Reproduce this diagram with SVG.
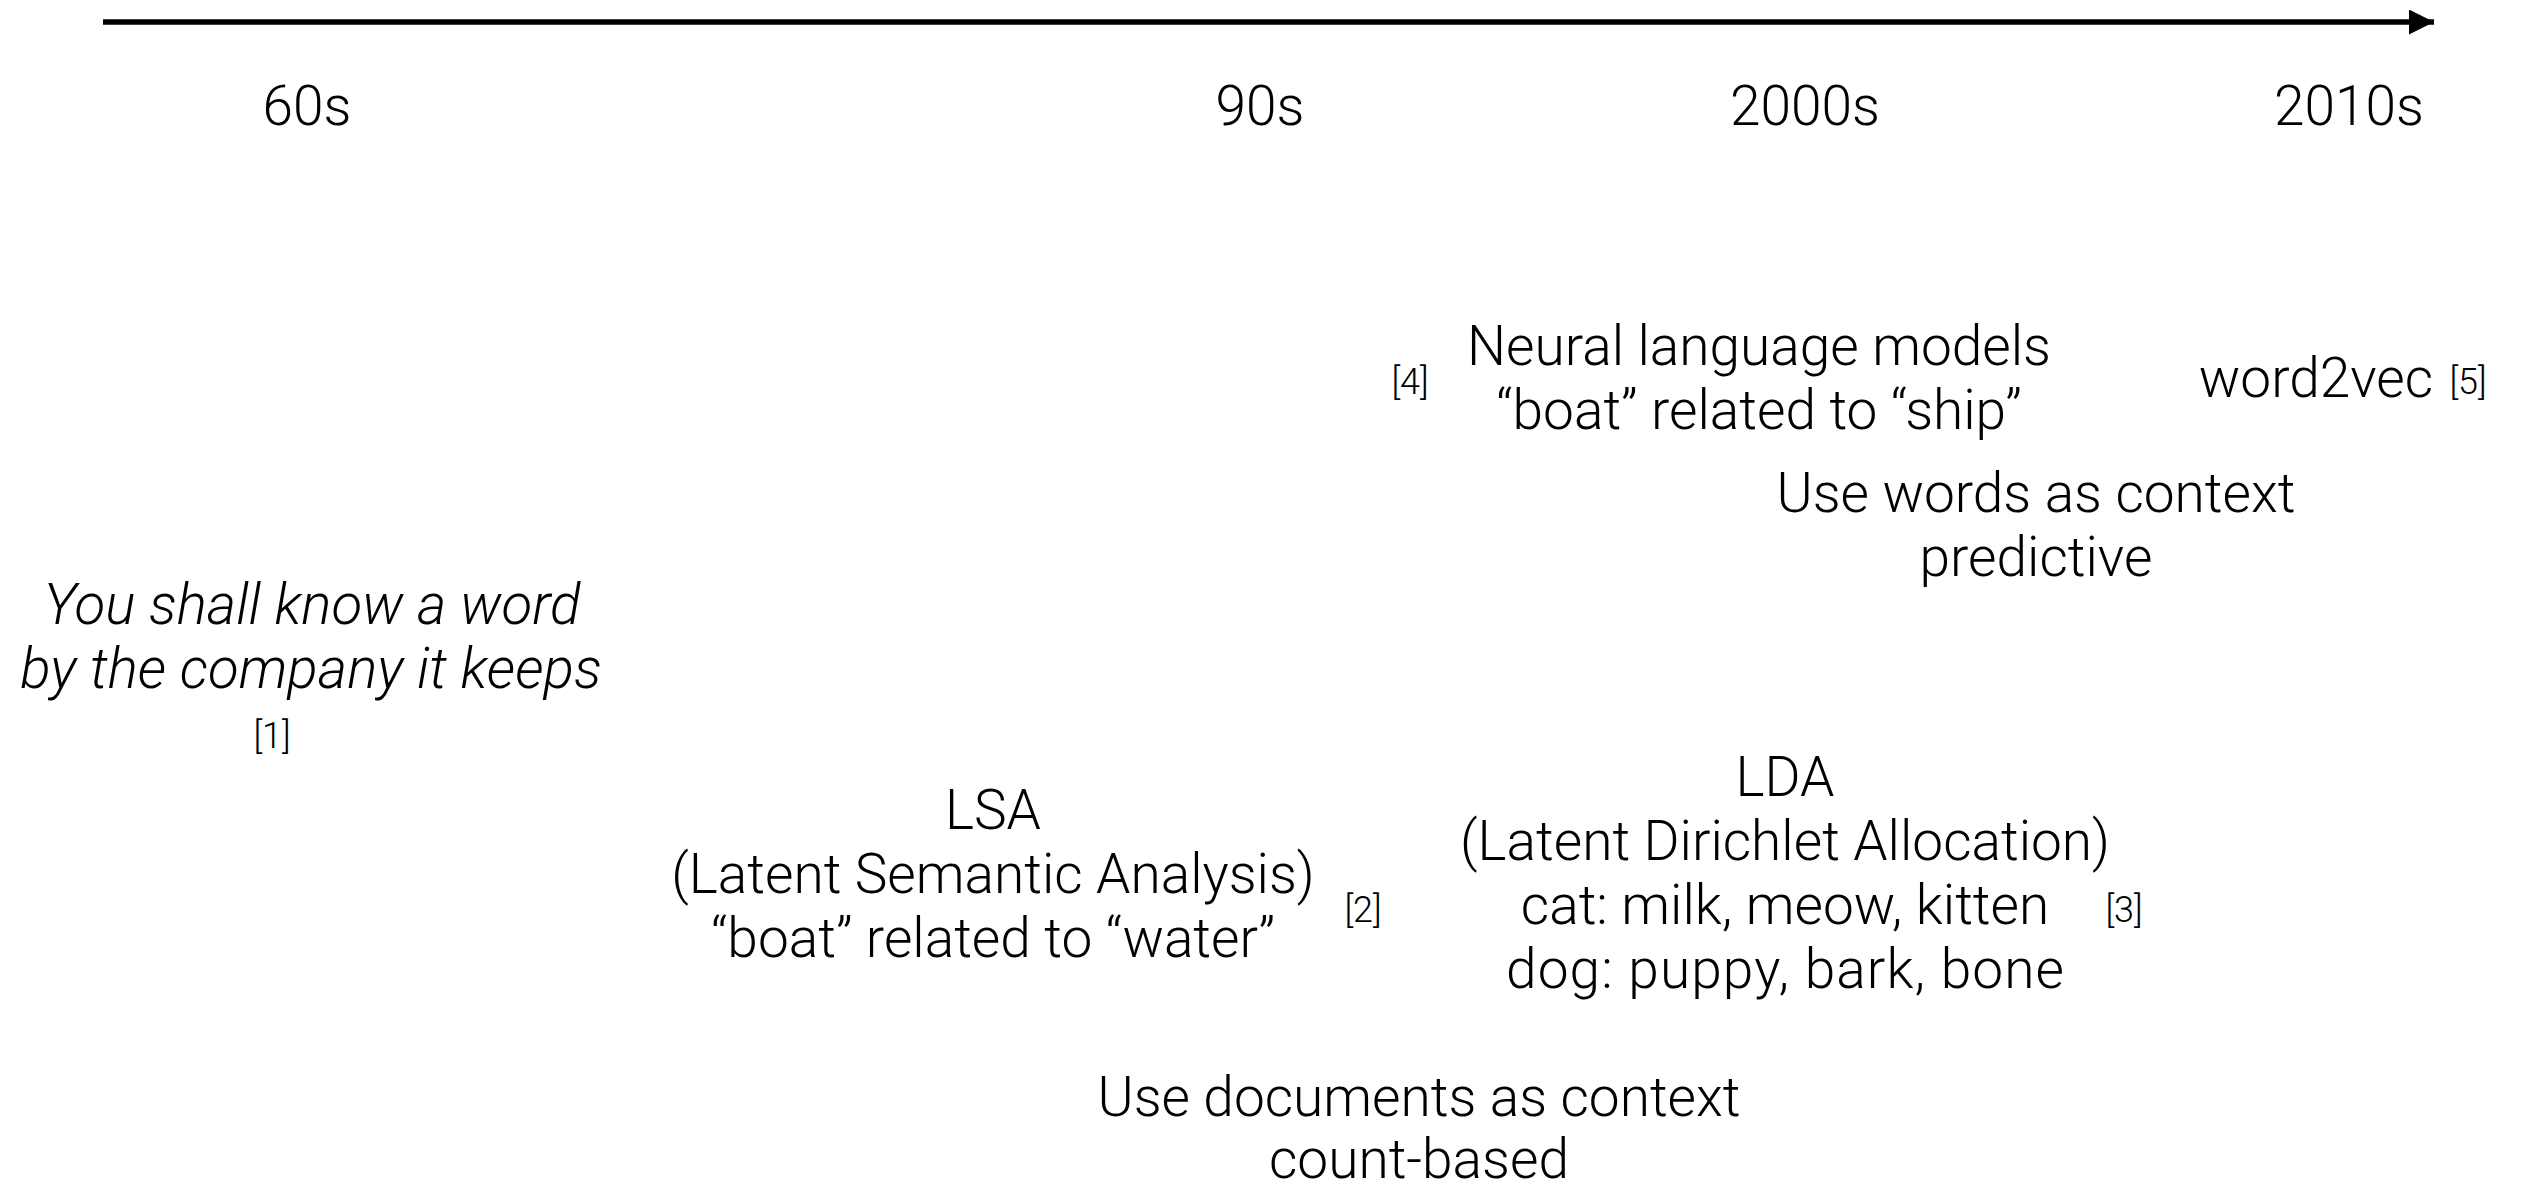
<svg xmlns="http://www.w3.org/2000/svg" width="2523" height="1186" viewBox="0 0 2523 1186">
  <style>
    .t { font-family: Roboto, "Liberation Sans", sans-serif; font-weight: 300; font-size: 55px; fill: #000; text-anchor: middle; }
    .it { font-style: italic; font-size: 56.5px; }
    .ref { font-family: Roboto, "Liberation Sans", sans-serif; font-weight: 300; font-size: 36px; fill: #000; text-anchor: middle; }
  </style>
  <defs>
    <marker id="arrow" markerWidth="25" markerHeight="25" refX="25" refY="12.5" orient="auto" markerUnits="userSpaceOnUse">
      <path d="M0,0 L25,12.5 L0,25 Z" fill="#000"/>
    </marker>
  </defs>
  <rect width="2523" height="1186" fill="#fff"/>

  <!-- time axis -->
  <g id="connectors">
    <line x1="103" y1="22" x2="2434" y2="22" stroke="#000" stroke-width="5.5" marker-end="url(#arrow)"/>
  </g>

  <!-- decade labels -->
  <g id="decades">
    <text class="t" x="307" y="125">60s</text>
    <text class="t" x="1260" y="125">90s</text>
    <text class="t" x="1805" y="125">2000s</text>
    <text class="t" x="2349" y="125">2010s</text>
  </g>

  <g id="quote">
    <text class="t it" x="312" y="624">You shall know a word</text>
    <text class="t it" x="311" y="688">by the company it keeps</text>
    <text class="ref" x="272" y="748">[1]</text>
  </g>

  <g id="lsa">
    <text class="t" x="993" y="829">LSA</text>
    <text class="t" x="993" y="893">(Latent Semantic Analysis)</text>
    <text class="t" x="993" y="957">“boat” related to “water”</text>
    <text class="ref" x="1363" y="922">[2]</text>
  </g>

  <g id="lda">
    <text class="t" x="1785" y="796">LDA</text>
    <text class="t" x="1785" y="860">(Latent Dirichlet Allocation)</text>
    <text class="t" x="1785" y="924">cat: milk, meow, kitten</text>
    <text class="t" x="1785" y="988" textLength="558">dog: puppy, bark, bone</text>
    <text class="ref" x="2124" y="922">[3]</text>
  </g>

  <g id="neural-lm">
    <text class="ref" x="1410" y="394">[4]</text>
    <text class="t" x="1759" y="365">Neural language models</text>
    <text class="t" x="1759" y="429">“boat” related to “ship”</text>
  </g>

  <g id="word2vec">
    <text class="t" x="2316" y="397">word2vec</text>
    <text class="ref" x="2468" y="394">[5]</text>
  </g>

  <g id="predictive">
    <text class="t" x="2036" y="512">Use words as context</text>
    <text class="t" x="2036" y="576">predictive</text>
  </g>

  <g id="count-based">
    <text class="t" x="1419" y="1116">Use documents as context</text>
    <text class="t" x="1419" y="1178">count-based</text>
  </g>
</svg>
